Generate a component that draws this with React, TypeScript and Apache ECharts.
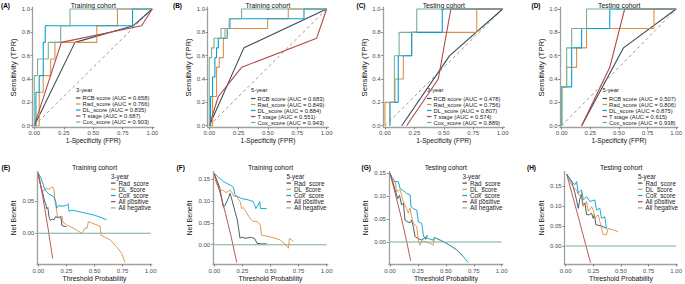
import React, { useEffect, useRef } from 'react';
import * as echarts from 'echarts';

// ---------------- data ----------------
const rocXTicks = [0, 0.25, 0.5, 0.75, 1];
const rocYTicks = [0, 0.2, 0.4, 0.6, 0.8, 1];
const dcaXTicks = [0, 0.25, 0.5, 0.75, 1];
const dcaYTicksE = [0, 0.05];
const dcaYTicksOther = [0, 0.05, 0.1, 0.15];

const rocNames = ['RCB score', 'Rad_score', 'DL_score', 'T stage', 'Cox_score'];
const dcaNames = ['Rad_score', 'DL_score', 'Cox_score', 'All positive', 'All negative'];
const panelLabels = ['(A)', '(B)', '(C)', '(D)', '(E)', '(F)', '(G)', '(H)'];
const panelTitles = ['Training cohort', 'Training cohort', 'Testing cohort', 'Testing cohort', 'Training cohort', 'Training cohort', 'Testing cohort', 'Testing cohort'];
const legendTitles = ['3-year', '5-year', '3-year', '5-year', '3-year', '5-year', '3-year', '5-year'];

const aucA = [0.658, 0.766, 0.835, 0.687, 0.903];
const aucB = [0.683, 0.849, 0.884, 0.551, 0.943];
const aucC = [0.478, 0.756, 0.807, 0.574, 0.889];
const aucD = [0.507, 0.806, 0.875, 0.615, 0.938];

const diagonal = [[0, 0], [1, 1]];

// ROC A: training, 3-year
const rocA_RCB = [[0, 0], [0.345, 0.714], [0.84, 0.857], [1, 1]];
const rocA_Rad = [[0, 0], [0.042, 0], [0.042, 0.286], [0.076, 0.286], [0.076, 0.429], [0.139, 0.429], [0.139, 0.571], [0.175, 0.571], [0.175, 0.714], [0.53, 0.714], [0.53, 0.857], [0.705, 0.857], [0.705, 1], [1, 1]];
const rocA_DL = [[0, 0], [0.014, 0], [0.014, 0.286], [0.042, 0.286], [0.042, 0.429], [0.076, 0.429], [0.076, 0.714], [0.093, 0.714], [0.093, 0.857], [0.833, 0.857], [0.833, 1], [1, 1]];
const rocA_T = [[0, 0], [0.23, 0.714], [0.91, 0.857], [1, 1]];
const rocA_Cox = [[0, 0], [0, 0.429], [0.028, 0.429], [0.028, 0.571], [0.119, 0.571], [0.119, 0.714], [0.224, 0.714], [0.224, 0.857], [0.303, 0.857], [0.303, 1], [1, 1]];

// ROC B: training, 5-year
const rocB_RCB = [[0, 0], [0.295, 0.667], [1, 1]];
const rocB_Rad = [[0, 0], [0.028, 0], [0.028, 0.25], [0.062, 0.25], [0.062, 0.5], [0.085, 0.5], [0.085, 0.583], [0.12, 0.583], [0.12, 0.75], [0.134, 0.75], [0.134, 0.833], [0.497, 0.833], [0.497, 0.917], [0.673, 0.917], [0.673, 1], [1, 1]];
const rocB_DL = [[0, 0], [0.011, 0], [0.011, 0.25], [0.028, 0.25], [0.028, 0.417], [0.048, 0.417], [0.048, 0.583], [0.062, 0.583], [0.062, 0.667], [0.077, 0.667], [0.077, 0.75], [0.153, 0.75], [0.153, 0.833], [0.176, 0.833], [0.176, 0.917], [0.807, 0.917], [0.807, 1], [1, 1]];
const rocB_T = [[0, 0], [0.077, 0.25], [0.276, 0.5], [0.915, 0.75], [1, 1]];
const rocB_Cox = [[0, 0], [0, 0.583], [0.02, 0.583], [0.02, 0.667], [0.04, 0.667], [0.04, 0.75], [0.1, 0.75], [0.1, 0.833], [0.17, 0.833], [0.17, 0.917], [0.275, 0.917], [0.275, 1], [1, 1]];

// ROC C: testing, 3-year
const rocC_RCB = [[0.142, 0], [0.55, 0.6], [1, 1]];
const rocC_Rad = [[0, 0], [0, 0.2], [0.085, 0.2], [0.085, 0.4], [0.156, 0.4], [0.156, 0.6], [0.227, 0.6], [0.227, 0.8], [0.78, 0.8], [0.78, 1], [1, 1]];
const rocC_DL = [[0.042, 0], [0.042, 0.2], [0.113, 0.2], [0.113, 0.6], [0.227, 0.6], [0.227, 0.8], [0.487, 0.8], [0.487, 1], [1, 1]];
const rocC_T = [[0.184, 0], [0.453, 0.4], [0.56, 1], [1, 1]];
const rocC_Cox = [[0.042, 0], [0.042, 0.2], [0.08, 0.2], [0.08, 0.6], [0.12, 0.6], [0.12, 0.8], [0.27, 0.8], [0.27, 1], [1, 1]];

// ROC D: testing, 5-year
const rocD_RCB = [[0.174, 0], [0.54, 0.667], [1, 1]];
const rocD_Rad = [[0, 0], [0, 0.333], [0.043, 0.333], [0.043, 0.5], [0.13, 0.5], [0.13, 0.667], [0.217, 0.667], [0.217, 0.833], [0.806, 0.833], [0.806, 1], [1, 1]];
const rocD_DL = [[0, 0], [0, 0.333], [0.087, 0.333], [0.087, 0.667], [0.174, 0.667], [0.174, 0.833], [0.42, 0.833], [0.42, 1], [1, 1]];
const rocD_T = [[0.174, 0], [0.42, 0.5], [0.55, 1], [1, 1]];
const rocD_Cox = [[0, 0], [0, 0.333], [0.043, 0.333], [0.043, 0.667], [0.087, 0.667], [0.087, 0.833], [0.217, 0.833], [0.217, 1], [1, 1]];

// DCA E: training, 3-year
const dcaE_Rad = [[0, 0.09], [0.02, 0.074], [0.04, 0.062], [0.055, 0.05], [0.065, 0.046], [0.075, 0.038], [0.085, 0.04], [0.095, 0.026], [0.105, 0.02], [0.125, 0.022], [0.14, 0.021], [0.155, 0.026], [0.175, 0.024], [0.2, 0.026], [0.21, 0.012], [0.25, 0.01]];
const dcaE_DL = [[0, 0.088], [0.01, 0.084], [0.03, 0.067], [0.05, 0.066], [0.07, 0.07], [0.09, 0.068], [0.11, 0.07], [0.13, 0.072], [0.14, 0.066], [0.148, 0.05], [0.163, 0.036], [0.17, 0.026], [0.19, 0.024], [0.21, 0.027], [0.22, 0.017], [0.252, 0.013], [0.3, 0.009], [0.341, 0.005], [0.386, 0.0], [0.4, 0.003], [0.415, 0.008], [0.435, 0.008], [0.445, 0.018], [0.475, 0.016], [0.55, 0.011], [0.558, -0.003], [0.638, -0.01], [0.697, -0.021], [0.742, -0.031], [0.772, -0.045]];
const dcaE_Cox = [[0, 0.093], [0.02, 0.087], [0.045, 0.075], [0.06, 0.067], [0.1, 0.06], [0.135, 0.057], [0.155, 0.05], [0.163, 0.039], [0.18, 0.043], [0.21, 0.042], [0.25, 0.043], [0.265, 0.046], [0.273, 0.034], [0.3, 0.036], [0.35, 0.034], [0.4, 0.032], [0.45, 0.03], [0.5, 0.028], [0.55, 0.025], [0.608, 0.021]];
const dcaE_AllPos = [[0, 0.094], [0.04, 0.056], [0.08, 0.015], [0.128, -0.039]];
const dcaE_AllNeg = [[0, 0], [1, 0]];

// DCA F: training, 5-year
const dcaF_Rad = [[0, 0.162], [0.02, 0.15], [0.05, 0.129], [0.07, 0.1], [0.08, 0.087], [0.095, 0.09], [0.11, 0.098], [0.13, 0.11], [0.14, 0.118], [0.16, 0.1], [0.184, 0.076], [0.205, 0.057], [0.215, 0.04], [0.228, 0.015], [0.24, 0.017], [0.28, 0.015], [0.33, 0.017], [0.36, 0.014], [0.38, 0.003], [0.42, 0.002], [0.466, 0.002]];
const dcaF_DL = [[0, 0.156], [0.02, 0.14], [0.05, 0.126], [0.08, 0.124], [0.1, 0.12], [0.125, 0.122], [0.14, 0.126], [0.16, 0.118], [0.17, 0.112], [0.2, 0.11], [0.23, 0.099], [0.243, 0.083], [0.26, 0.085], [0.3, 0.068], [0.32, 0.06], [0.347, 0.053], [0.37, 0.054], [0.395, 0.05], [0.41, 0.045], [0.42, 0.022], [0.46, 0.02], [0.5, 0.018], [0.55, 0.014], [0.585, 0.011], [0.62, 0.004], [0.66, -0.008], [0.668, 0.014], [0.69, 0.011], [0.703, 0.007]];
const dcaF_Cox = [[0, 0.164], [0.036, 0.155], [0.08, 0.145], [0.14, 0.137], [0.17, 0.132], [0.184, 0.114], [0.21, 0.11], [0.243, 0.106], [0.3, 0.103], [0.347, 0.099], [0.37, 0.083], [0.39, 0.091], [0.405, 0.099], [0.41, 0.083], [0.466, 0.083]];
const dcaF_AllPos = [[0, 0.163], [0.05, 0.12], [0.1, 0.071], [0.15, 0.018], [0.2, -0.041]];
const dcaF_AllNeg = [[0, 0], [1, 0]];

// DCA G: testing, 3-year
const dcaG_Rad = [[0, 0.15], [0.02, 0.135], [0.045, 0.114], [0.069, 0.095], [0.085, 0.102], [0.104, 0.081], [0.12, 0.085], [0.134, 0.048], [0.15, 0.045], [0.18, 0.042], [0.194, 0.048], [0.209, 0.033], [0.224, 0.012], [0.25, 0.008], [0.284, 0.004], [0.313, 0.01], [0.32, 0.006], [0.334, 0.015]];
const dcaG_DL = [[0, 0.15], [0.03, 0.132], [0.045, 0.133], [0.06, 0.11], [0.09, 0.114], [0.104, 0.103], [0.119, 0.088], [0.135, 0.08], [0.149, 0.073], [0.164, 0.063], [0.179, 0.074], [0.194, 0.055], [0.209, 0.041], [0.239, 0.033], [0.254, 0.004], [0.269, -0.007], [0.285, 0.002], [0.313, 0.001], [0.358, -0.003], [0.388, -0.007], [0.397, 0.01], [0.45, 0.004], [0.507, -0.003], [0.56, -0.011], [0.597, -0.017], [0.63, -0.024], [0.657, -0.032]];
const dcaG_Cox = [[0, 0.15], [0.02, 0.14], [0.045, 0.132], [0.075, 0.132], [0.09, 0.117], [0.12, 0.112], [0.134, 0.11], [0.149, 0.106], [0.18, 0.103], [0.188, 0.077], [0.209, 0.073], [0.239, 0.07], [0.254, 0.044], [0.284, 0.041], [0.3, 0.012], [0.34, 0.008], [0.388, 0.004], [0.397, 0.01], [0.45, 0.004], [0.507, -0.003], [0.56, -0.011], [0.597, -0.017], [0.657, -0.032], [0.7, -0.045]];
const dcaG_AllPos = [[0, 0.15], [0.05, 0.103], [0.1, 0.054], [0.15, 0.0], [0.185, -0.041]];
const dcaG_AllNeg = [[0, 0], [1, 0]];

// DCA H: testing, 5-year
const dcaH_Rad = [[0.009, 0.179], [0.054, 0.161], [0.084, 0.132], [0.114, 0.094], [0.129, 0.119], [0.144, 0.128], [0.153, 0.103], [0.174, 0.107], [0.189, 0.078], [0.215, 0.078], [0.234, 0.082], [0.249, 0.069], [0.26, 0.078], [0.273, 0.053], [0.324, 0.05], [0.369, 0.044]];
const dcaH_DL = [[0.015, 0.175], [0.054, 0.153], [0.075, 0.145], [0.099, 0.14], [0.114, 0.128], [0.13, 0.125], [0.144, 0.133], [0.159, 0.098], [0.189, 0.111], [0.204, 0.086], [0.234, 0.098], [0.25, 0.09], [0.264, 0.069], [0.294, 0.078], [0.309, 0.061], [0.339, 0.028], [0.369, 0.028], [0.384, 0.044], [0.474, 0.036]];
const dcaH_Cox = [[0.009, 0.18], [0.054, 0.161], [0.084, 0.153], [0.099, 0.161], [0.114, 0.132], [0.144, 0.14], [0.159, 0.115], [0.189, 0.123], [0.219, 0.111], [0.264, 0.115], [0.279, 0.09], [0.309, 0.094], [0.324, 0.069], [0.354, 0.073], [0.369, 0.044]];
const dcaH_AllPos = [[0.009, 0.179], [0.1, 0.087], [0.15, 0.035], [0.225, -0.042]];
const dcaH_AllNeg = [[0, 0], [1, 0]];

// ---------------- styles / layout ----------------
const FONT = 'Liberation Sans, Arial, sans-serif';
const ROC_COLORS = ['#374E55', '#DF8F44', '#00A1D5', '#B24745', '#79AF97'];
const DCA_COLORS = ['#374E55', '#DF8F44', '#00A1D5', '#B24745', '#79AF97'];
const AXIS_C = '#a0a0a0';

// grid rectangles: [left, top, width, height]
const rocGrids = [
  [32.5, 7.25, 121.5, 120.2],
  [207.5, 7.25, 120.9, 120.2],
  [383.2, 7.25, 121.2, 120.2],
  [560, 7.25, 118.5, 120.2],
];
const dcaGrids = [
  [37.2, 171.5, 114.6, 93],
  [213.2, 171.5, 114.6, 93],
  [388.9, 171.5, 113.9, 93],
  [564.6, 171.5, 113.2, 93],
];
const dcaYRanges = [[-0.0483, 0.0957], [-0.0454, 0.168], [-0.0491, 0.154], [-0.0463, 0.186]];
const labelPos = [[1, 5], [173, 5], [356.5, 5], [531.5, 5], [1.5, 167.5], [176.5, 167.5], [361.5, 167.5], [527, 167.5]];
const rocLegendPos = [[76, 95], [251, 95.5], [427, 95.5], [602.5, 95.5]];
const dcaLegendPos = [[111, 180], [286.5, 180], [462.5, 180], [638, 180]];

function buildOption() {
  const grid: any[] = [];
  const xAxis: any[] = [];
  const yAxis: any[] = [];
  const series: any[] = [];
  const legend: any[] = [];
  const graphic: any[] = [];

  const rocData = [
    [rocA_RCB, rocA_Rad, rocA_DL, rocA_T, rocA_Cox],
    [rocB_RCB, rocB_Rad, rocB_DL, rocB_T, rocB_Cox],
    [rocC_RCB, rocC_Rad, rocC_DL, rocC_T, rocC_Cox],
    [rocD_RCB, rocD_Rad, rocD_DL, rocD_T, rocD_Cox],
  ];
  const rocAucs = [aucA, aucB, aucC, aucD];
  const dcaData = [
    [dcaE_Rad, dcaE_DL, dcaE_Cox, dcaE_AllPos, dcaE_AllNeg],
    [dcaF_Rad, dcaF_DL, dcaF_Cox, dcaF_AllPos, dcaF_AllNeg],
    [dcaG_Rad, dcaG_DL, dcaG_Cox, dcaG_AllPos, dcaG_AllNeg],
    [dcaH_Rad, dcaH_DL, dcaH_Cox, dcaH_AllPos, dcaH_AllNeg],
  ];

  const axisCommon = (ticks: number[], digits: number, margin: number) => ({
    axisLine: { show: true, onZero: false, lineStyle: { color: AXIS_C, width: 1.3 } },
    axisTick: { show: true, customValues: ticks, length: 2, lineStyle: { color: '#444', width: 0.6 } },
    axisLabel: { show: true, customValues: ticks, formatter: (v: number) => v.toFixed(digits), fontSize: 6, color: '#4d4d4d', margin, fontFamily: FONT },
    splitLine: { show: false },
  });

  // ROC panels
  for (let p = 0; p < 4; p++) {
    const [l, t, w, h] = rocGrids[p];
    grid.push({ left: l, top: t, width: w, height: h, containLabel: false });
    xAxis.push({
      type: 'value', gridIndex: p, min: -0.015, max: 1.015,
      ...axisCommon(rocXTicks, 2, 2.5),
      name: '1-Specificity (FPR)', nameLocation: 'middle', nameGap: 9.5,
      nameTextStyle: { fontSize: 6.6, color: '#111', fontFamily: FONT },
    });
    yAxis.push({
      type: 'value', gridIndex: p, min: -0.015, max: 1.015,
      ...axisCommon(rocYTicks, 1, 2.5),
      name: 'Sensitivity (TPR)', nameLocation: 'middle', nameGap: 13.5,
      nameTextStyle: { fontSize: 7.8, color: '#111', fontFamily: FONT },
    });
    series.push({
      type: 'line', name: 'reference', xAxisIndex: p, yAxisIndex: p, data: diagonal,
      showSymbol: false, symbol: 'none', silent: true,
      lineStyle: { color: '#8c8c8c', width: 0.9, type: [3, 3] },
    });
    const names: string[] = [];
    for (let s = 0; s < 5; s++) {
      const nm = `${rocNames[s]} (AUC = ${rocAucs[p][s].toFixed(3)})`;
      names.push(nm);
      series.push({
        type: 'line', name: nm, xAxisIndex: p, yAxisIndex: p, data: rocData[p][s],
        showSymbol: false, symbol: 'none',
        itemStyle: { color: ROC_COLORS[s] },
        lineStyle: { color: ROC_COLORS[s], width: 1.1 },
      });
    }
    const [lx, ly] = rocLegendPos[p];
    legend.push({
      orient: 'vertical', left: lx, top: ly, padding: 0, itemGap: 0,
      itemWidth: 4.5, itemHeight: 1.2, icon: 'rect', selectedMode: false,
      textStyle: { fontSize: 5.8, lineHeight: 5.7, color: '#222', fontFamily: FONT, padding: [0, 0, 0, -3] },
      data: names,
    });
    graphic.push({
      type: 'text', x: lx, y: ly - 5.5,
      style: { text: legendTitles[p], fontSize: 5.8, fontFamily: FONT, fill: '#222', textAlign: 'left', textVerticalAlign: 'middle' },
    });
    graphic.push({
      type: 'text', x: l + w / 2, y: 5,
      style: { text: panelTitles[p], fontSize: 6.8, fontFamily: FONT, fill: '#111', textAlign: 'center', textVerticalAlign: 'middle' },
    });
  }

  // DCA panels
  for (let p = 0; p < 4; p++) {
    const gi = p + 4;
    const [l, t, w, h] = dcaGrids[p];
    grid.push({ left: l, top: t, width: w, height: h, containLabel: false });
    xAxis.push({
      type: 'value', gridIndex: gi, min: -0.01, max: 1.01,
      ...axisCommon(dcaXTicks, 2, 3),
      name: 'Threshold Probability', nameLocation: 'middle', nameGap: 10,
      nameTextStyle: { fontSize: 6.8, color: '#111', fontFamily: FONT },
    });
    yAxis.push({
      type: 'value', gridIndex: gi, min: dcaYRanges[p][0], max: dcaYRanges[p][1],
      ...axisCommon(p === 0 ? dcaYTicksE : dcaYTicksOther, 2, 3),
      name: 'Net Benefit', nameLocation: 'middle', nameGap: 19.5,
      nameTextStyle: { fontSize: 7.1, color: '#111', fontFamily: FONT },
    });
    for (let s = 0; s < 5; s++) {
      series.push({
        type: 'line', name: dcaNames[s], xAxisIndex: gi, yAxisIndex: gi, data: dcaData[p][s],
        showSymbol: false, symbol: 'none',
        itemStyle: { color: DCA_COLORS[s] },
        lineStyle: { color: DCA_COLORS[s], width: s === 4 ? 1.1 : 0.9 },
      });
    }
    const [lx, ly] = dcaLegendPos[p];
    legend.push({
      orient: 'vertical', left: lx, top: ly, padding: 0, itemGap: 0,
      itemWidth: 4.5, itemHeight: 1.2, icon: 'rect', selectedMode: false,
      textStyle: { fontSize: 6.3, lineHeight: 6.2, color: '#222', fontFamily: FONT, padding: [0, 0, 0, -2] },
      data: dcaNames,
    });
    graphic.push({
      type: 'text', x: lx, y: ly - 3.5,
      style: { text: legendTitles[gi], fontSize: 6.3, fontFamily: FONT, fill: '#222', textAlign: 'left', textVerticalAlign: 'middle' },
    });
    graphic.push({
      type: 'text', x: l + w / 2, y: 167.5,
      style: { text: panelTitles[gi], fontSize: 6.8, fontFamily: FONT, fill: '#111', textAlign: 'center', textVerticalAlign: 'middle' },
    });
  }

  for (let i = 0; i < 8; i++) {
    graphic.push({
      type: 'text', x: labelPos[i][0], y: labelPos[i][1],
      style: { text: panelLabels[i], fontSize: 6.5, fontWeight: 'bold', fontFamily: FONT, fill: '#000', textAlign: 'left', textVerticalAlign: 'middle' },
    });
  }

  return {
    animation: false,
    backgroundColor: '#ffffff',
    textStyle: { fontFamily: FONT },
    grid, xAxis, yAxis, series, legend, graphic,
  };
}

export default function App() {
  const ref = useRef<HTMLDivElement>(null);
  useEffect(() => {
    if (!ref.current) return;
    const chart = echarts.init(ref.current, undefined, { renderer: 'svg' });
    chart.setOption(buildOption() as any);
    return () => chart.dispose();
  }, []);
  return <div ref={ref} style={{ position: 'absolute', left: 0, top: 0, width: 685, height: 284, background: '#fff' }} />;
}
